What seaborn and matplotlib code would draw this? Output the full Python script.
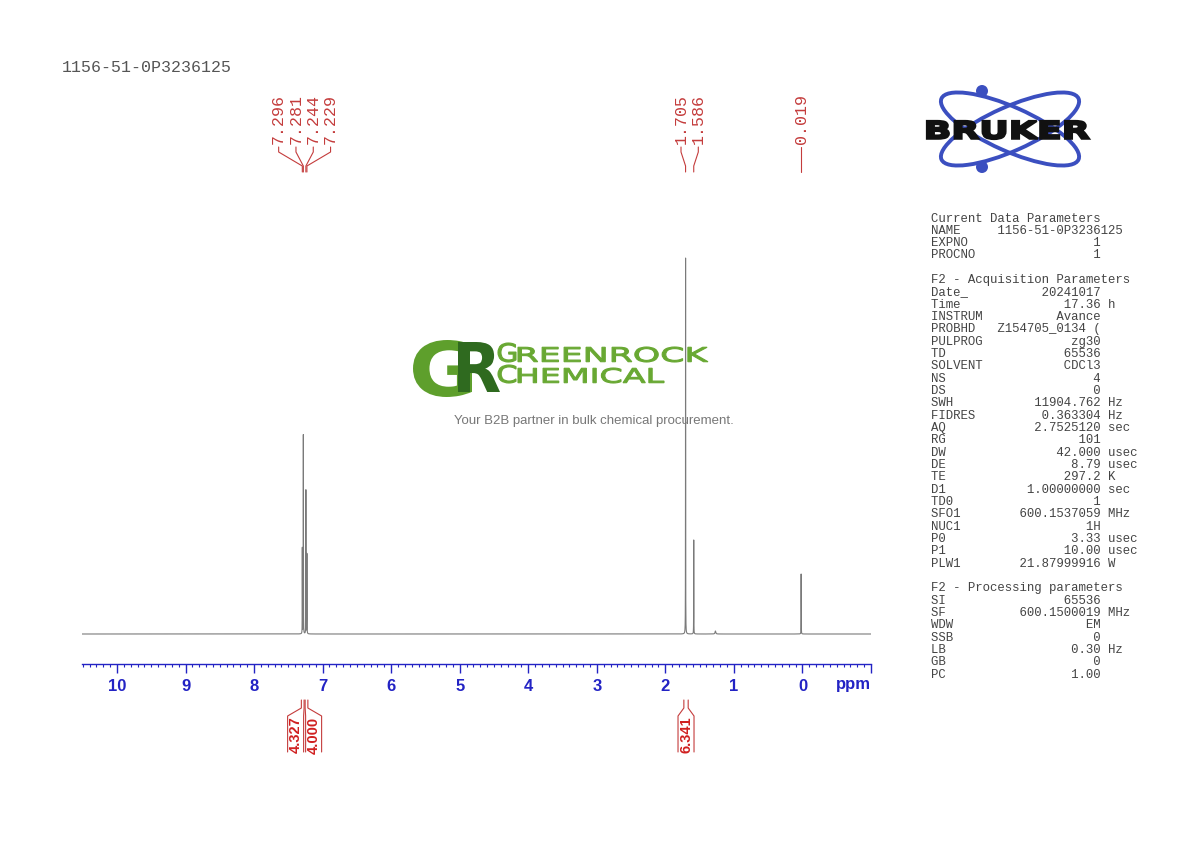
import numpy as np
import pandas as pd
import seaborn as sns
import matplotlib
matplotlib.use("Agg")
import matplotlib.pyplot as plt
from matplotlib.patches import Ellipse, Circle, PathPatch
from matplotlib.textpath import TextPath
from matplotlib.font_manager import FontProperties
from matplotlib.transforms import Affine2D

# Data
sample_name = "1156-51-0P3236125"
peak_ppm = [7.296, 7.281, 7.244, 7.229, 1.705, 1.586, 0.019]
peak_height = [86, 199, 144, 80, 378, 94, 60]
peak_group = [0, 0, 0, 0, 1, 1, 2]
small_ppm = [1.27]
small_height = [3]
integral_regions = [(7.31, 7.27), (7.255, 7.215), (1.73, 1.667)]
integral_values = ["4.327", "4.000", "6.341"]
integral_group = [0, 0, 1]
tick_ppm = list(range(0, 11))

param_lines = [
    ("Current Data Parameters", None, None),
    ("NAME", "1156-51-0P3236125", "name"),
    ("EXPNO", "1", ""),
    ("PROCNO", "1", ""),
    None,
    ("F2 - Acquisition Parameters", None, None),
    ("Date_", "20241017", ""),
    ("Time", "17.36", "h"),
    ("INSTRUM", "Avance", ""),
    ("PROBHD", "Z154705_0134 (", ""),
    ("PULPROG", "zg30", ""),
    ("TD", "65536", ""),
    ("SOLVENT", "CDCl3", ""),
    ("NS", "4", ""),
    ("DS", "0", ""),
    ("SWH", "11904.762", "Hz"),
    ("FIDRES", "0.363304", "Hz"),
    ("AQ", "2.7525120", "sec"),
    ("RG", "101", ""),
    ("DW", "42.000", "usec"),
    ("DE", "8.79", "usec"),
    ("TE", "297.2", "K"),
    ("D1", "1.00000000", "sec"),
    ("TD0", "1", ""),
    ("SFO1", "600.1537059", "MHz"),
    ("NUC1", "1H", ""),
    ("P0", "3.33", "usec"),
    ("P1", "10.00", "usec"),
    ("PLW1", "21.87999916", "W"),
    None,
    ("F2 - Processing parameters", None, None),
    ("SI", "65536", ""),
    ("SF", "600.1500019", "MHz"),
    ("WDW", "EM", ""),
    ("SSB", "0", ""),
    ("LB", "0.30", "Hz"),
    ("GB", "0", ""),
    ("PC", "1.00", ""),
]

sns.set_style("white")
plt.rcParams["font.family"] = ["Liberation Sans", "DejaVu Sans"]
mono = "Liberation Mono"
red = "#c43c3c"
blue = "#2323c4"

# synthetic line shape from the picked peaks
ppm = np.linspace(10.51, -1.0, 65536)
gamma = 0.001
baseline = 30
intensity = np.full_like(ppm, baseline, dtype=float)
for p, h in zip(peak_ppm + small_ppm, peak_height + small_height):
    w = gamma if h > 10 else 0.006
    intensity += h / (1 + ((ppm - p) / w) ** 2)
df = pd.DataFrame({"ppm": ppm, "intensity": intensity})

fig = plt.figure(figsize=(11.9, 8.42), dpi=100)

# background layer in pixel coordinates
ax_o = fig.add_axes([0, 0, 1, 1], zorder=0)
ax_o.set_xlim(0, 1190)
ax_o.set_ylim(842, 0)
ax_o.axis("off")

ax = fig.add_axes([82 / 1190, (842 - 664) / 842, 789 / 1190, 604 / 842], zorder=1)
ax.patch.set_alpha(0)

sns.lineplot(data=df, x="ppm", y="intensity", ax=ax, color="#7a7a7a",
             linewidth=0.8, estimator=None, sort=False)
ax.set_xlim(10.51, -1.0)
ax.set_ylim(0, 604)
ax.set_yticks([])
ax.set_xlabel("")
ax.set_ylabel("")
for s in ["left", "right", "top"]:
    ax.spines[s].set_visible(False)
ax.spines["bottom"].set_color(blue)
ax.spines["bottom"].set_linewidth(1.0)
ax.set_xticks([-1] + tick_ppm)
ax.set_xticklabels([""] + [str(t) for t in tick_ppm], fontweight="bold")
ax.set_xticks(np.round(np.arange(-1.0, 10.51, 0.1), 1), minor=True)
ax.tick_params(axis="x", which="both", bottom=True)
ax.tick_params(axis="x", which="major", direction="out", length=6.3, width=1,
               color=blue, labelcolor=blue, labelsize=12, pad=4.5)
ax.tick_params(axis="x", which="minor", direction="out", length=2.3,
               width=0.8, color=blue)
ax.text(-0.74, -21, "ppm", color=blue, fontsize=12, fontweight="bold",
        ha="center", va="center")

# peak labels with leader lines
ppm_per_px = 11.51 / 789
lab_spacing = 17.3 * ppm_per_px
pk = np.array(peak_ppm)
grp = np.array(peak_group)
for g in np.unique(grp):
    idx = np.where(grp == g)[0]
    c = pk[idx].mean()
    n = len(idx)
    for k, i in enumerate(idx):
        lx = c + ((n - 1) / 2 - k) * lab_spacing
        ax.text(lx, 520, f"{pk[i]:.3f}", rotation=90, ha="center", va="bottom",
                family=mono, fontsize=12, color=red)
        ax.plot([lx, lx, pk[i], pk[i]], [517, 512, 498, 492], color=red,
                lw=0.8, clip_on=False)

# integrals below the axis
box_half = 8 * ppm_per_px
box_spacing = 18 * ppm_per_px
ig = np.array(integral_group)
for g in np.unique(ig):
    idx = np.where(ig == g)[0]
    centers = [np.mean(integral_regions[i]) for i in idx]
    c = np.mean(centers)
    n = len(idx)
    for k, i in enumerate(idx):
        hi, lo = integral_regions[i]
        bc = c + ((n - 1) / 2 - k) * box_spacing
        ax.plot([hi, hi, bc + box_half, bc + box_half], [-36, -44, -52, -88],
                color=red, lw=0.8, clip_on=False)
        ax.plot([lo, lo, bc - box_half, bc - box_half], [-36, -44, -52, -88],
                color=red, lw=0.8, clip_on=False)
        ax.text(bc, -71, integral_values[i], rotation=90, ha="center",
                va="center", fontsize=10.5, fontweight="bold", color="#d02020")

# header text
ax_o.text(62, 68, sample_name, family=mono, fontsize=12, color="#555555",
          ha="left", va="center")

# parameter panel
y = 218.5
for line in param_lines:
    if line is not None:
        name, val, unit = line
        if val is None:
            s = name
        elif unit == "name":
            s = f"{name:<9}{val}"
        else:
            s = f"{name:<9}{val:>14} {unit}".rstrip()
        ax_o.text(931, y, s, family=mono, fontsize=8.9, color="#444444",
                  ha="left", va="center")
    y += 12.33


def path_text(s, x0, x1, ytop, ybot, color, prop, z=2, stroke=0.0):
    tp = TextPath((0, 0), s, size=100, prop=prop)
    bb = tp.get_extents()
    sx = (x1 - x0) / bb.width
    sy = (ybot - ytop) / bb.height
    tr = Affine2D().translate(-bb.x0, -bb.y0).scale(sx, -sy).translate(x0, ybot)
    ax_o.add_patch(PathPatch(tr.transform_path(tp), fc=color,
                             ec=color if stroke else "none", lw=stroke, zorder=z))


# Bruker logo
orbit = "#3b4fc0"
for ang in (24, -24):
    ax_o.add_patch(Ellipse((1010, 129), 150, 44, angle=ang, fill=False,
                           ec=orbit, lw=2.8, zorder=1))
for cy in (91, 167):
    ax_o.add_patch(Circle((982, cy), 6, fc=orbit, ec="none", zorder=1))
bold = FontProperties(family="DejaVu Sans", weight="bold")
path_text("BRUKER", 927, 1089, 121, 139, "#111111", bold, stroke=1.6)

# Greenrock watermark
light_g = "#5e9f2c"
dark_g = "#2f6a1f"
path_text("G", 413, 472, 340, 397, light_g, bold)
path_text("R", 458, 500, 342, 392, dark_g, bold, z=3)
reg = FontProperties(family="DejaVu Sans", weight="normal")
path_text("G", 498, 516, 343, 362, "#68a832", reg, stroke=0.8)
path_text("REENROCK", 518, 708, 347, 362, "#68a832", reg, stroke=0.8)
path_text("C", 498, 516, 365, 383, "#68a832", reg, stroke=0.8)
path_text("HEMICAL", 518, 664, 368, 383, "#68a832", reg, stroke=0.8)
ax_o.text(594, 421, "Your B2B partner in bulk chemical procurement.",
          fontsize=9.5, color="#777777", ha="center", va="center")

fig.savefig("out.png", dpi=100)
